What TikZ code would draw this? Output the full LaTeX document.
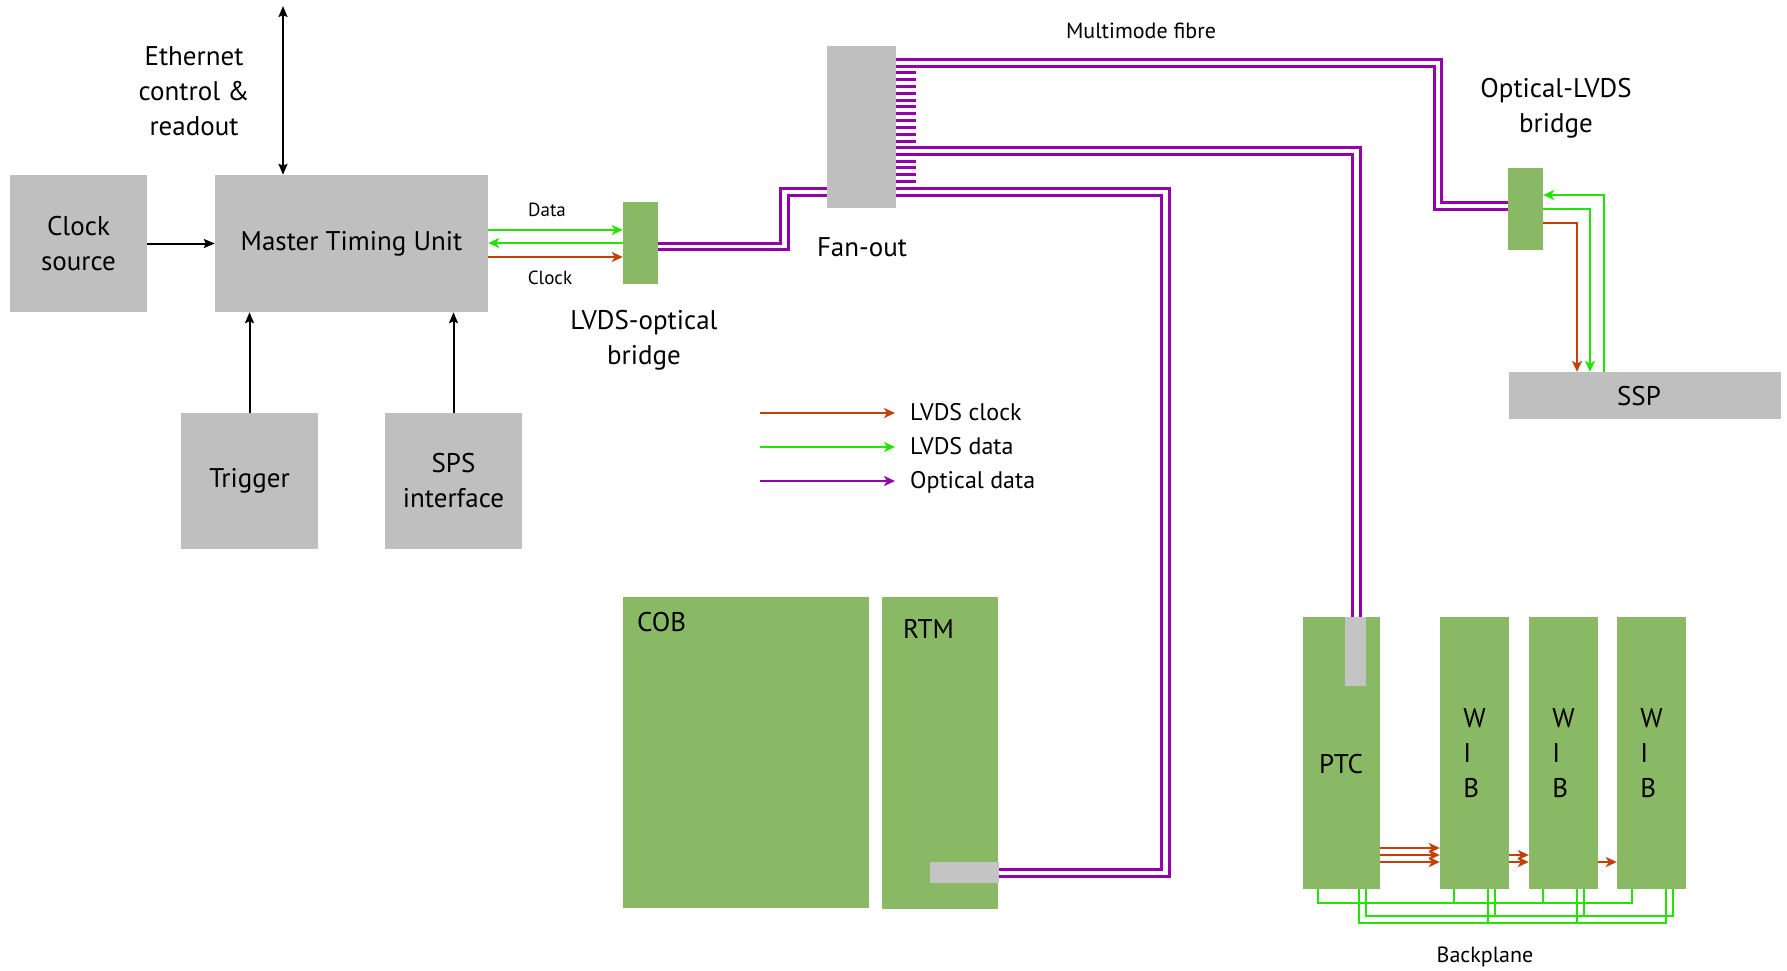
\documentclass[tikz,border=0pt]{standalone}
\usepackage{fontspec}
\setmainfont{PT Sans}
\usetikzlibrary{arrows.meta}
\definecolor{boxgray}{RGB}{191,191,191}
\definecolor{conngray}{RGB}{196,196,196}
\definecolor{boxgreen}{RGB}{138,185,102}
\definecolor{lvclock}{RGB}{196,64,8}
\definecolor{lvdata}{RGB}{34,228,0}
\definecolor{optic}{RGB}{148,0,170}
\newcommand\bigf{\fontsize{27}{35}\selectfont}
\newcommand\smallf{\fontsize{19}{23}\selectfont}
\newcommand\midf{\fontsize{22}{26}\selectfont}
\newcommand\legf{\fontsize{24}{28}\selectfont}
\begin{document}
\begin{tikzpicture}[x=1pt,y=-1pt,
  gbox/.style={fill=boxgray, draw=none, inner sep=0pt, align=center, font=\bigf},
  grbox/.style={fill=boxgreen, draw=none, inner sep=0pt, align=center, font=\bigf},
  cbox/.style={fill=conngray, draw=none, inner sep=0pt},
  lbl/.style={inner sep=0pt, align=center, font=\bigf},
  slbl/.style={inner sep=0pt, align=center, font=\smallf},
  mlbl/.style={inner sep=0pt, align=center, font=\midf},
  blk/.style={draw=black, line width=2pt, -{Stealth[length=11pt,width=9pt,inset=2pt]}},
  ctip/.style={-{Stealth[length=11pt,width=10pt,inset=3pt]}},
  clkln/.style={draw=lvclock, line width=2.6pt, line join=miter},
  datln/.style={draw=lvdata, line width=2.6pt, line join=miter},
  optln/.style={draw=optic, line width=3pt, line join=miter},
]
\useasboundingbox (0,0) rectangle (1787,970);

% boxes
\node[gbox, minimum width=137, minimum height=137] (clk) at (78.5,243.5) {Clock\\source};
\node[gbox, minimum width=273, minimum height=137] (mtu) at (351.5,243.5) {Master Timing Unit};
\node[gbox, minimum width=137, minimum height=136] (trig) at (249.5,481) {Trigger};
\node[gbox, minimum width=137, minimum height=136] (sps) at (453.5,481) {SPS\\interface};
\node[grbox, minimum width=35, minimum height=82] (lob) at (640.5,243) {};
\node[gbox, minimum width=69, minimum height=162] (fan) at (861.5,127) {};
\node[grbox, minimum width=35, minimum height=82] (olb) at (1525.5,209) {};
\node[gbox, minimum width=272, minimum height=47] (ssp) at (1645,395.5) {};
\node[grbox, minimum width=246, minimum height=311] (cob) at (746,752.5) {};
\node[grbox, minimum width=116, minimum height=312] (rtm) at (940,753) {};
\node[cbox, minimum width=69, minimum height=21] (rtmc) at (964.5,872.5) {};
\node[grbox, minimum width=77, minimum height=272] (ptc) at (1341.5,753) {};
\node[cbox, minimum width=21, minimum height=69] (ptcc) at (1355.5,651.5) {};
\node[grbox, minimum width=69, minimum height=272, align=left] (wib1) at (1474.5,753) {W\\I\\B};
\node[grbox, minimum width=69, minimum height=272, align=left] (wib2) at (1563.5,753) {W\\I\\B};
\node[grbox, minimum width=69, minimum height=272, align=left] (wib3) at (1651.5,753) {W\\I\\B};

% labels
\node[lbl] (ethl) at (194,91) {Ethernet\\control \&\\readout};
\node[lbl] (fanl) at (862,247) {Fan-out};
\node[lbl] (lobl) at (644,340) {LVDS-optical\\bridge};
\node[lbl] (olbl) at (1556,108) {Optical-LVDS\\bridge};
\node[lbl] (sspl) at (1639,396) {SSP};
\node[lbl, anchor=base west] (cobl) at (637,631) {COB};
\node[lbl, anchor=base west] (rtml) at (903,638) {RTM};
\node[lbl] (ptcl) at (1341,764) {PTC};
\node[mlbl] (mmf) at (1141,31) {Multimode fibre};
\node[mlbl] (bpl) at (1485,957) {Backplane};
\node[slbl] (datal) at (547,210) {Data};
\node[slbl] (clockl) at (550,278) {Clock};

% black arrows
\coordinate (ethtop) at (283,6);
\draw[blk, {Stealth[length=11pt,width=9pt,inset=2pt]}-{Stealth[length=11pt,width=9pt,inset=2pt]}] (ethtop) -- (ethtop |- mtu.north);
\draw[blk] (clk.east) -- (mtu.west);
\draw[blk] (trig.north) -- (trig.north |- mtu.south);
\draw[blk] (sps.north) -- (sps.north |- mtu.south);

% MTU <-> LVDS-optical bridge
\draw[datln, ctip] (mtu.east |- 0,230) -- (lob.west |- 0,230);
\draw[datln, ctip] (lob.west |- 0,243) -- (mtu.east |- 0,243);
\draw[clkln, ctip] (mtu.east |- 0,257) -- (lob.west |- 0,257);

% bridge -> fan-out
\draw[optln] (lob.east |- 0,243) -- (780,243) -- (780,188) -- (fan.west |- 0,188);
\draw[optln] (lob.east |- 0,249) -- (788,249) -- (788,195) -- (fan.west |- 0,195);

% fan-out stubs
\foreach \yy in {72.7,79.5,86.3,93.2,100,106.8,113.7,120.5,127.3,134.2,141,161,167.9,174.7,181.6}
  \draw[optln] (fan.east |- 0,\yy) -- ++(20,0);

% fan-out -> optical-LVDS bridge
\draw[optln] (fan.east |- 0,59) -- (1441,59) -- (1441,202) -- (olb.west |- 0,202);
\draw[optln] (fan.east |- 0,66.5) -- (1434,66.5) -- (1434,209) -- (olb.west |- 0,209);

% fan-out -> PTC
\draw[optln] (fan.east |- 0,147) -- (1360,147) -- (1360,0 |- ptcc.north);
\draw[optln] (fan.east |- 0,154.5) -- (1352,154.5) -- (1352,0 |- ptcc.north);

% fan-out -> RTM
\draw[optln] (fan.east |- 0,188) -- (1169,188) -- (1169,876) -- (rtmc.east |- 0,876);
\draw[optln] (fan.east |- 0,195) -- (1161,195) -- (1161,869) -- (rtmc.east |- 0,869);

% optical-LVDS bridge <-> SSP
\draw[datln, ctip] (1604,0 |- ssp.north) -- (1604,195) -- (olb.east |- 0,195);
\draw[datln, ctip] (olb.east |- 0,209) -- (1590,209) -- (1590,0 |- ssp.north);
\draw[clkln, ctip] (olb.east |- 0,223) -- (1577,223) -- (1577,0 |- ssp.north);

% PTC -> WIB clocks
\foreach \yy in {848,855,862}
  \draw[clkln, ctip] (ptc.east |- 0,\yy) -- (wib1.west |- 0,\yy);
\foreach \yy in {855,862}
  \draw[clkln, ctip] (wib1.east |- 0,\yy) -- (wib2.west |- 0,\yy);
\draw[clkln, ctip] (wib2.east |- 0,862) -- (wib3.west |- 0,862);

% backplane
\draw[datln] (1318,0 |- ptc.south) -- (1318,903) -- (1632,903) -- (1632,0 |- wib3.south);
\draw[datln] (1454,0 |- wib1.south) -- (1454,903);
\draw[datln] (1543,0 |- wib2.south) -- (1543,903);
\draw[datln] (1366,0 |- ptc.south) -- (1366,916) -- (1673,916) -- (1673,0 |- wib3.south);
\draw[datln] (1495,0 |- wib1.south) -- (1495,916);
\draw[datln] (1584,0 |- wib2.south) -- (1584,916);
\draw[datln] (1359,0 |- ptc.south) -- (1359,923) -- (1666,923) -- (1666,0 |- wib3.south);
\draw[datln] (1488,0 |- wib1.south) -- (1488,923);
\draw[datln] (1577,0 |- wib2.south) -- (1577,923);

% legend
\coordinate (lg1a) at (760,413); \coordinate (lg1b) at (895,413);
\coordinate (lg2a) at (760,447); \coordinate (lg2b) at (895,447);
\coordinate (lg3a) at (760,481); \coordinate (lg3b) at (895,481);
\draw[clkln, ctip] (lg1a) -- (lg1b);
\draw[datln, ctip] (lg2a) -- (lg2b);
\draw[optln, line width=2.6pt, ctip] (lg3a) -- (lg3b);
\node[inner sep=0pt, font=\legf, anchor=base west] (lgt1) at (910,420) {LVDS clock};
\node[inner sep=0pt, font=\legf, anchor=base west] (lgt2) at (910,454) {LVDS data};
\node[inner sep=0pt, font=\legf, anchor=base west] (lgt3) at (910,488) {Optical data};
\end{tikzpicture}
\end{document}
